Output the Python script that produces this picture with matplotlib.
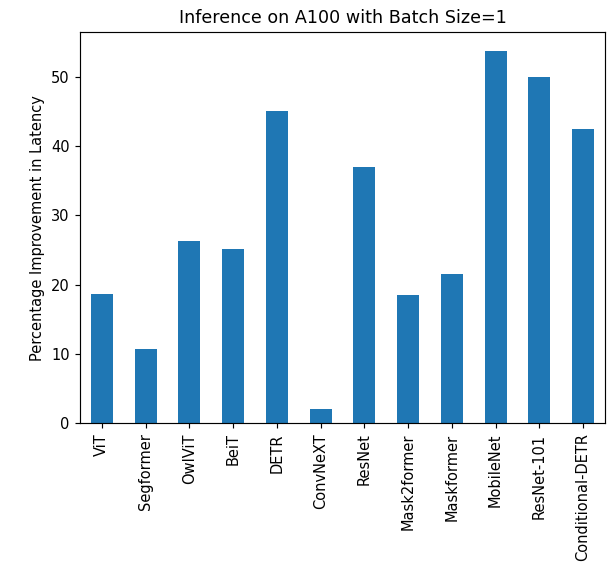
import numpy as np
import pandas as pd
import matplotlib.pyplot as plt

models = ["ViT", "Segformer", "OwlViT", "BeiT", "DETR", "ConvNeXT", "ResNet",
          "Mask2former", "Maskformer", "MobileNet", "ResNet-101", "Conditional-DETR"]
improvement = [18.65, 10.7, 26.3, 25.2, 45.05, 2.05, 36.95, 18.5, 21.55, 53.75, 49.9, 42.45]

data = pd.Series(improvement, index=models)

# text in the reference is a little bigger than at 100 dpi
fig = plt.figure(figsize=(608 / 105, 562 / 105), dpi=105)
ax = fig.add_axes([0.1316, 0.247, 0.8634, 0.696])
data.plot(kind="bar", ax=ax, color="#1f77b4")
ax.set_ylabel("Percentage Improvement in Latency")
ax.set_title("Inference on A100 with Batch Size=1")
fig.savefig("out.png", dpi=105)
